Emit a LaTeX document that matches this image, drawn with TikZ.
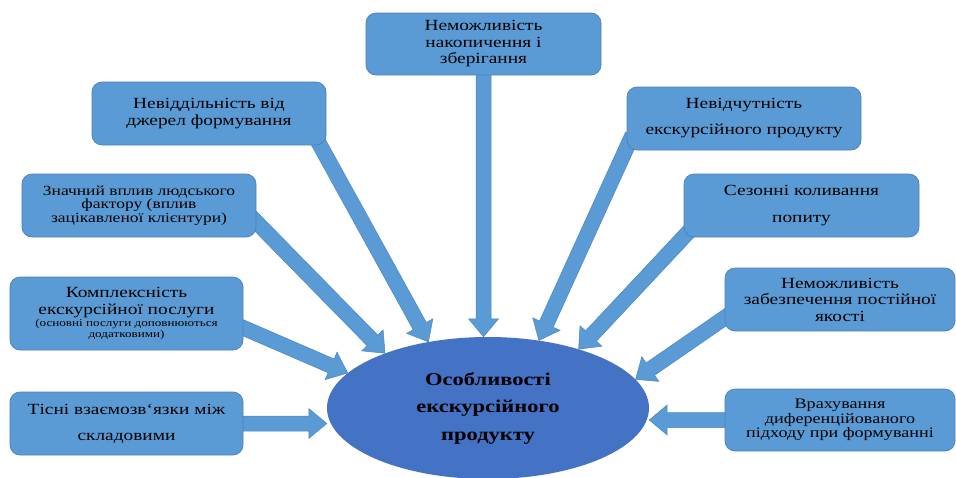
\documentclass[tikz,border=0pt]{standalone}
\usepackage{fontspec}
\setmainfont{Liberation Serif}[FakeStretch=1.25]
\usetikzlibrary{calc,shapes.geometric}

\definecolor{cardfill}{HTML}{5B9BD5}
\definecolor{cardline}{HTML}{4A80BA}
\definecolor{arrowline}{HTML}{4A86C2}
\definecolor{ovalfill}{HTML}{4472C4}

\pgfdeclarelayer{back}
\pgfsetlayers{back,main}

\tikzset{
  card/.style={draw=cardline, fill=cardfill, line width=0.7pt, rounded corners=10pt,
    inner sep=0pt, align=center, text=black},
  cardsize/.style 2 args={minimum width=#1, minimum height=#2},
  oval/.style={ellipse, fill=ovalfill, inner sep=0pt, align=center,
    minimum width=322pt, minimum height=142pt},
  fatarrow/.style={fill=cardfill, draw=arrowline, line width=0.5pt, line join=miter},
}

% block arrow from #1 (start, extended back under the box) to the tip #2
\newcommand\blockarrow[2]{%
  \coordinate (ba-s) at ($(#1)!-14pt!(#2)$);
  \coordinate (ba-t) at (#2);
  \coordinate (ba-h) at ($(ba-t)!18pt!(ba-s)$);
  \path[fatarrow] ($(ba-s)!7.5pt!90:(ba-t)$) -- ($(ba-h)!7.5pt!-90:(ba-s)$)
    -- ($(ba-h)!15pt!-90:(ba-s)$) -- (ba-t) -- ($(ba-h)!15pt!90:(ba-s)$)
    -- ($(ba-h)!7.5pt!90:(ba-s)$) -- ($(ba-s)!7.5pt!-90:(ba-t)$) -- cycle;
}

\begin{document}
\begin{tikzpicture}[x=1pt, y=-1pt]
\useasboundingbox (0,0) rectangle (956,477);

% central oval
\node[oval, font=\bfseries\fontsize{18}{27.5}\selectfont] (ell) at (488,408)
  {Особливості\\ екскурсійного\\ продукту};

% left column
\node[card, cardsize={234pt}{63pt}, font=\fontsize{15.5}{16.5}\selectfont] (b2) at (209,113.5)
  {Невіддільність від\\ джерел формування};
\node[card, cardsize={234pt}{63pt}, font=\fontsize{14}{13.5}\selectfont] (b3) at (139,205.5)
  {Значний вплив людського\\ фактору (вплив\\ зацікавленої клієнтури)};
\node[card, cardsize={233pt}{73pt}, font=\fontsize{15.5}{17}\selectfont] (b4) at (126.5,313.5)
  {Комплексність\\ екскурсійної послуги\\[-5pt]
   {\fontsize{10.5}{11}\selectfont (основні послуги доповнюються}\\[-6pt]
   {\fontsize{10.5}{11}\selectfont додатковими)}};
\node[card, cardsize={233pt}{63pt}, font=\fontsize{15.5}{26}\selectfont] (b5) at (126.5,423.5)
  {Тісні взаємозв`язки між\\ складовими};

% top
\node[card, cardsize={235pt}{62pt}, font=\fontsize{15.5}{16.5}\selectfont] (b1) at (483.5,44)
  {Неможливість\\ накопичення і\\ зберігання};

% right column
\node[card, cardsize={234pt}{63pt}, font=\fontsize{15.5}{26}\selectfont] (b6) at (744,118.5)
  {Невідчутність\\ екскурсійного продукту};
\node[card, cardsize={235pt}{63pt}, font=\fontsize{15.5}{27}\selectfont] (b7) at (801.5,205.5)
  {Сезонні коливання\\ попиту};
\node[card, cardsize={230pt}{63pt}, font=\fontsize{15.5}{16.5}\selectfont] (b8) at (840,299.5)
  {Неможливість\\ забезпечення постійної\\ якості};
\node[card, cardsize={230pt}{62pt}, font=\fontsize{14.5}{14.5}\selectfont] (b9) at (840,420)
  {Врахування\\ диференційованого\\ підходу при формуванні};

% tips of the horizontal and vertical arrows
\coordinate (t1) at (b1.south |- ell.north);
\coordinate (t5) at (b5.east -| ell.west);
\coordinate (t9) at (b9.west -| ell.east);

\begin{pgfonlayer}{back}
  \blockarrow{b1.south}{t1}
  \blockarrow{b2.-16}{ell.132}
  \blockarrow{b3.-8}{ell.152}
  \blockarrow{b4.-7}{ell.166.6}
  \blockarrow{b5.east}{t5}
  \blockarrow{b6.194}{ell.53.4}
  \blockarrow{b7.195.5}{ell.33.5}
  \blockarrow{b8.189}{ell.11.9}
  \blockarrow{b9.west}{t9}
\end{pgfonlayer}
\end{tikzpicture}
\end{document}
